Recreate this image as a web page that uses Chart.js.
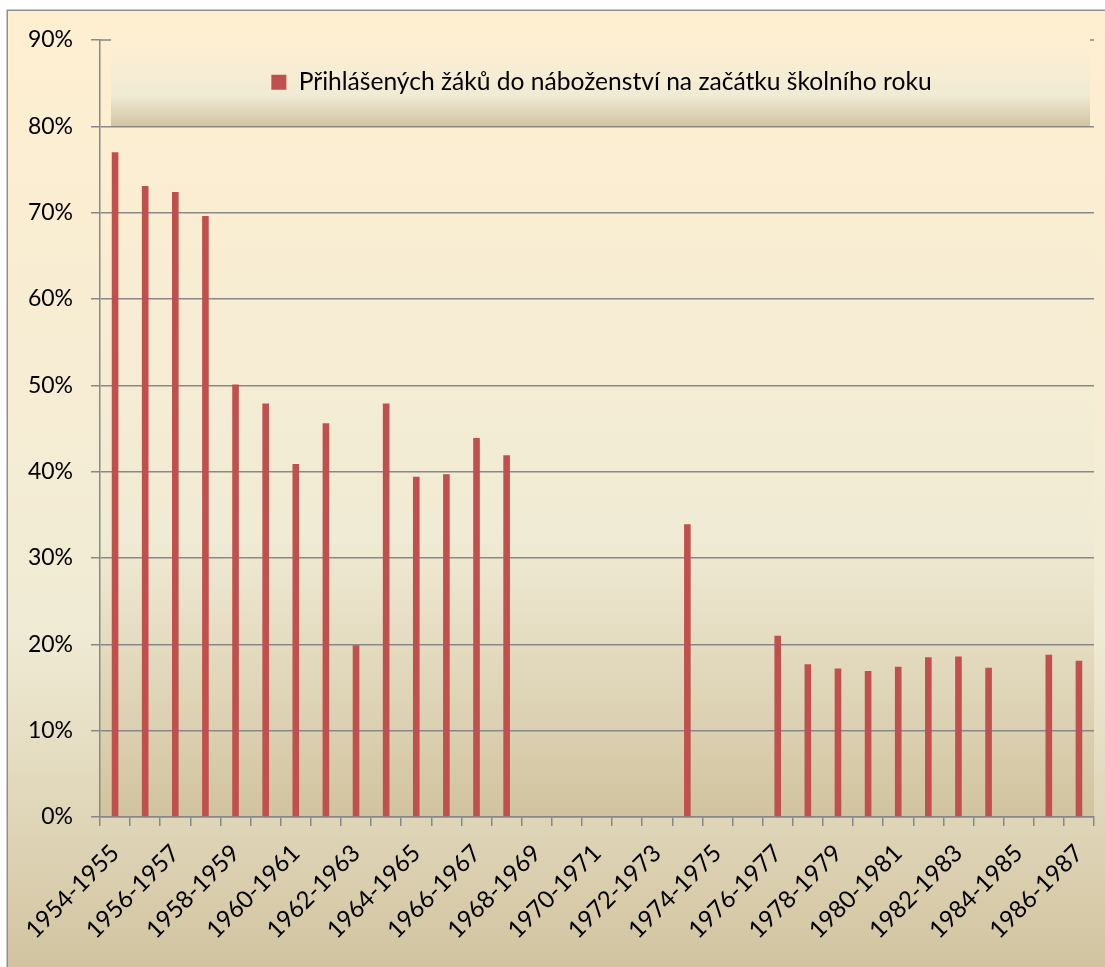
<!DOCTYPE html>
<html>
<head>
<meta charset="utf-8">
<script src="https://cdn.jsdelivr.net/npm/chart.js@4.4.1/dist/chart.umd.min.js"></script>
<style>
html,body{margin:0;padding:0;background:#fff;}
#wrap{width:1105px;height:967px;position:relative;}
</style>
</head>
<body>
<div id="wrap"><canvas id="c"></canvas></div>
<script>
const categories = [
  '1954-1955','1955-1956','1956-1957','1957-1958','1958-1959','1959-1960',
  '1960-1961','1961-1962','1962-1963','1963-1964','1964-1965','1965-1966',
  '1966-1967','1967-1968','1968-1969','1969-1970','1970-1971','1971-1972',
  '1972-1973','1973-1974','1974-1975','1975-1976','1976-1977','1977-1978',
  '1978-1979','1979-1980','1980-1981','1981-1982','1982-1983','1983-1984',
  '1984-1985','1985-1986','1986-1987'
];
const seriesName = 'Přihlášených žáků do náboženství na začátku školního roku';
const values = [
  77.0, 73.1, 72.4, 69.6, 50.1, 47.9,
  40.9, 45.6, 19.9, 47.9, 39.4, 39.7,
  43.9, 41.9, null, null, null, null,
  null, 33.9, null, null, 21.0, 17.7,
  17.2, 16.9, 17.4, 18.5, 18.6, 17.3,
  null, 18.8, 18.1
];
const yMin = 0, yMax = 90, yStep = 10, legendBottomValue = 80;

function parchment(ctx, y0, y1) {
  const g = ctx.createLinearGradient(0, y0, 0, y1);
  g.addColorStop(0, '#FFEFD1');
  g.addColorStop(0.64, '#F0EBD5');
  g.addColorStop(1, '#D1C39F');
  return g;
}

function legendFrame(chart) {
  const a = chart.chartArea, y = chart.scales.y;
  return {x0: a.left + 11, x1: a.right - 4, y0: a.top, y1: y.getPixelForValue(legendBottomValue)};
}

const bgPlugin = {
  id: 'bg',
  beforeDraw(chart) {
    const {ctx, chartArea: a, scales: {y}} = chart;
    ctx.save();
    ctx.fillStyle = '#fff';
    ctx.fillRect(0, 0, chart.width, chart.height);
    ctx.fillStyle = parchment(ctx, 10, 977);
    ctx.fillRect(7, 10, chart.width, chart.height);
    ctx.strokeStyle = '#8f8f8f';
    ctx.lineWidth = 1.5;
    ctx.strokeRect(7.25, 10.25, chart.width + 20, chart.height + 20);
    ctx.fillStyle = parchment(ctx, a.top, a.bottom);
    ctx.fillRect(a.left, a.top, a.right - a.left, a.bottom - a.top);
    const f = legendFrame(chart);
    ctx.fillStyle = parchment(ctx, f.y0, f.y1);
    ctx.fillRect(f.x0, f.y0, f.x1 - f.x0, f.y1 - f.y0);
    const yt = y.getPixelForValue(yMax);
    ctx.strokeStyle = '#888';
    ctx.lineWidth = 1.5;
    ctx.beginPath();
    ctx.moveTo(a.left, yt); ctx.lineTo(f.x0, yt);
    ctx.moveTo(f.x1, yt); ctx.lineTo(a.right, yt);
    ctx.stroke();
    ctx.restore();
  }
};

const legendPlace = {
  id: 'legendPlace',
  afterLayout(chart) {
    const lg = chart.legend;
    if (!lg || !lg.legendHitBoxes || !lg.legendHitBoxes.length) return;
    const hb = lg.legendHitBoxes[0];
    const pad = lg.options.labels.padding;
    const f = legendFrame(chart);
    const cx = (f.x0 + f.x1) / 2 + 1;
    const cy = (f.y0 + f.y1) / 2 - 1;
    const left = cx - hb.width / 2 - pad;
    const top = cy - hb.height / 2 - pad;
    lg.left = left;
    lg.top = top;
    lg.width = hb.width + 2 * pad + 60;
    lg.height = hb.height + 2 * pad + 20;
    lg.right = lg.left + lg.width;
    lg.bottom = lg.top + lg.height;
  }
};

new Chart(document.getElementById('c'), {
  type: 'bar',
  data: {
    labels: categories,
    datasets: [{
      label: seriesName,
      data: values,
      backgroundColor: '#C0504D',
      barPercentage: 0.22,
      categoryPercentage: 1.0
    }]
  },
  options: {
    responsive: true,
    maintainAspectRatio: false,
    animation: false,
    devicePixelRatio: 1,
    layout: {padding: {top: 40, right: 11, left: 0, bottom: 0}},
    plugins: {
      legend: {
        position: 'chartArea',
        align: 'start',
        labels: {
          boxWidth: 15, boxHeight: 15, padding: 10, color: '#000',
          font: {family: 'Lato', size: 24.6}
        }
      },
      tooltip: {enabled: false}
    },
    scales: {
      x: {
        grid: {offset: true, drawOnChartArea: false, drawTicks: true, tickLength: 9, color: '#888', lineWidth: 1.5},
        border: {color: '#888', width: 1.5},
        ticks: {
          autoSkip: false, maxRotation: 45, minRotation: 45, padding: 13, color: '#000',
          font: {family: 'Lato', size: 24},
          callback: (v, i) => (i % 2 === 0 ? categories[i] : '')
        },
        afterFit(s) { s.height = 150; s.paddingRight = 0; s.paddingLeft = 0; }
      },
      y: {
        min: yMin, max: yMax,
        ticks: {stepSize: yStep, padding: 18, color: '#000', font: {family: 'Lato', size: 23}, callback: v => v + '%'},
        grid: {
          color: c => (c.tick && c.tick.value === yMax ? 'rgba(0,0,0,0)' : '#888'),
          tickColor: '#888', tickLength: 9, lineWidth: 1.5
        },
        border: {color: '#888', width: 1.5},
        afterFit(s) { s.width = 100; s.paddingTop = 0; s.paddingBottom = 0; }
      }
    }
  },
  plugins: [bgPlugin, legendPlace]
});
</script>
</body>
</html>
